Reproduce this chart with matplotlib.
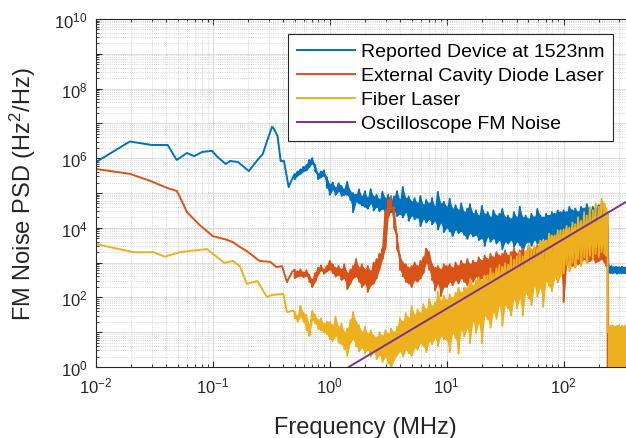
import numpy as np
import matplotlib
matplotlib.use("Agg")
import matplotlib.pyplot as plt
from matplotlib.ticker import LogLocator, FuncFormatter, NullFormatter

plt.rcParams["font.family"] = ["Liberation Sans", "DejaVu Sans"]
plt.rcParams["mathtext.fontset"] = "custom"
plt.rcParams["mathtext.rm"] = "Liberation Sans"
plt.rcParams["mathtext.it"] = "Liberation Sans:italic"
plt.rcParams["mathtext.default"] = "regular"

# ── Low-frequency part of each spectrum (MHz, log10 PSD) ──────────────────────
dev_f_low = [0.01, 0.0195, 0.030, 0.041, 0.049, 0.060, 0.069, 0.081, 0.098, 0.110,
             0.129, 0.140, 0.164, 0.203, 0.237, 0.267, 0.289, 0.320, 0.330, 0.357,
             0.380, 0.405, 0.445, 0.475]
dev_y_low = [5.89, 6.48, 6.38, 6.38, 5.95, 6.15, 6.06, 6.18, 6.21, 6.03,
             5.83, 5.92, 5.89, 5.63, 5.92, 6.12, 6.47, 6.90, 6.86, 6.64,
             5.92, 5.92, 5.17, 5.40]

ecdl_f_low = [0.01, 0.0195, 0.029, 0.041, 0.049, 0.052, 0.060, 0.077, 0.100, 0.130,
              0.148, 0.170, 0.195, 0.250, 0.310, 0.350, 0.390, 0.430, 0.475]
ecdl_y_low = [5.69, 5.55, 5.35, 5.14, 5.06, 4.90, 4.45, 4.08, 3.76, 3.66,
              3.59, 3.45, 3.33, 3.05, 3.02, 2.87, 2.90, 2.44, 2.73]

fiber_f_low = [0.01, 0.021, 0.031, 0.039, 0.052, 0.089, 0.100, 0.126, 0.148, 0.170,
               0.195, 0.240, 0.290, 0.320, 0.400, 0.430, 0.475]
fiber_y_low = [3.53, 3.30, 3.30, 3.17, 3.30, 3.39, 3.25, 2.99, 3.05, 2.90,
               2.39, 2.47, 2.01, 2.07, 2.10, 1.58, 1.61]

# ── Upper part: per-bin max / min of log10 PSD on a shared frequency grid ─────
f_hf = [0.501, 0.531, 0.562, 0.596, 0.631, 0.668, 0.708, 0.750, 0.794, 0.841, 0.891, 0.944,
        1.00, 1.06, 1.12, 1.19, 1.26, 1.33, 1.41, 1.50, 1.58, 1.68, 1.78, 1.88, 2.00, 2.11,
        2.24, 2.37, 2.51, 2.66, 2.82, 2.99, 3.16, 3.35, 3.55, 3.76, 3.98, 4.22, 4.47, 4.73,
        5.01, 5.31, 5.62, 5.96, 6.31, 6.68, 7.08, 7.50, 7.94, 8.41, 8.91, 9.44,
        10.0, 10.6, 11.2, 11.9, 12.6, 13.3, 14.1, 15.0, 15.8, 16.8, 17.8, 18.8, 20.0, 21.1,
        22.4, 23.7, 25.1, 26.6, 28.2, 29.9, 31.6, 33.5, 35.5, 37.6, 39.8, 42.2, 44.7, 47.3,
        50.1, 53.1, 56.2, 59.6, 63.1, 66.8, 70.8, 75.0, 79.4, 84.1, 89.1, 94.4,
        100, 106, 112, 119, 126, 133, 141, 150, 158, 168, 178, 188, 200, 211, 224, 232, 238,
        244, 250, 256, 262, 268, 274, 280, 286, 292, 298, 304, 310, 316, 322, 328, 334, 340,
        346, 352, 358, 364, 370, 376, 382, 388, 394, 400]

dev_hi = [5.55, 5.62, 5.68, 5.75, 5.80, 5.95, 6.00, 5.80, 5.55, 5.62, 5.65, 5.45,
          5.25, 5.30, 5.15, 5.28, 5.20, 5.10, 5.32, 5.05, 5.00, 4.95, 5.10, 4.90, 5.05, 4.85,
          5.11, 4.90, 4.95, 4.80, 5.03, 4.85, 4.95, 4.75, 4.90, 5.05, 4.80, 5.17, 4.85, 4.90,
          4.75, 4.85, 4.70, 4.91, 4.65, 4.80, 4.70, 4.85, 4.60, 5.03, 4.70, 4.75,
          4.60, 4.83, 4.55, 4.65, 4.50, 4.70, 4.45, 4.55, 4.68, 4.40, 4.50, 4.35, 4.63, 4.40,
          4.45, 4.30, 4.50, 4.35, 4.40, 4.54, 4.30, 4.35, 4.25, 4.45, 4.30, 4.60, 4.30, 4.35,
          4.25, 4.40, 4.30, 4.54, 4.35, 4.30, 4.40, 4.35, 4.45, 4.40, 4.50, 4.45,
          4.50, 4.45, 4.60, 4.50, 4.55, 4.45, 4.60, 4.55, 4.68, 4.50, 4.60, 4.55, 4.65, 4.50,
          4.54, 4.45, 4.35,
          2.88, 2.85, 2.90, 2.84, 2.87, 2.83, 2.88, 2.86, 2.82, 2.87, 2.85, 2.84, 2.88, 2.83,
          2.86, 2.85, 2.82, 2.87, 2.84, 2.86, 2.83, 2.85, 2.88, 2.84, 2.86, 2.83, 2.85]
dev_lo = [5.40, 5.50, 5.55, 5.62, 5.65, 5.75, 5.85, 5.62, 5.40, 5.45, 5.50, 5.15,
          4.95, 5.10, 4.95, 5.05, 4.92, 4.95, 4.95, 4.80, 4.45, 4.75, 4.70, 4.65, 4.60, 4.55,
          4.70, 4.50, 4.60, 4.48, 4.55, 4.40, 4.50, 4.45, 4.50, 4.34, 4.40, 4.30, 4.45, 4.20,
          4.35, 4.25, 4.30, 4.05, 4.25, 4.15, 4.25, 4.10, 4.20, 3.95, 4.15, 3.88,
          4.00, 3.90, 3.76, 3.95, 3.85, 3.90, 3.80, 3.68, 3.85, 3.75, 3.80, 3.65, 3.70, 3.48,
          3.75, 3.60, 3.70, 3.55, 3.65, 3.39, 3.60, 3.55, 3.65, 3.45, 3.60, 3.50, 3.30, 3.55,
          3.60, 3.48, 3.65, 3.55, 3.60, 3.70, 3.48, 3.65, 3.76, 3.70, 3.80, 3.75,
          3.85, 3.97, 3.90, 4.00, 3.95, 4.05, 4.00, 4.05, 4.10, 4.05, 4.10, 4.15, 4.10, 4.20,
          4.25, 4.20, 3.00,
          2.72, 2.70, 2.74, 2.69, 2.73, 2.71, 2.72, 2.68, 2.73, 2.70, 2.72, 2.71, 2.69, 2.73,
          2.70, 2.72, 2.71, 2.68, 2.72, 2.70, 2.73, 2.69, 2.71, 2.72, 2.70, 2.73, 2.71]

ecdl_hi = [2.80, 2.75, 2.80, 2.72, 2.78, 2.65, 2.50, 2.70, 2.85, 2.92, 2.80, 2.90,
           3.05, 2.95, 2.85, 2.90, 2.80, 2.95, 2.70, 2.80, 2.90, 3.10, 2.85, 2.95, 2.80, 2.90,
           2.75, 3.00, 3.10, 3.25, 3.40, 4.50, 4.80, 4.91, 4.60, 3.80, 3.20, 3.00, 2.95, 2.85,
           2.90, 3.00, 2.90, 3.05, 3.15, 3.40, 3.30, 2.95, 2.85, 2.90, 2.80, 2.95,
           2.90, 2.95, 2.85, 3.00, 2.90, 3.05, 2.95, 3.10, 2.95, 3.05, 3.00, 3.15, 3.05, 3.20,
           3.10, 3.25, 3.15, 3.30, 3.20, 3.25, 3.35, 3.20, 3.30, 3.40, 3.25, 3.35, 3.40, 3.30,
           3.45, 3.35, 3.40, 3.50, 3.35, 3.45, 3.40, 3.50, 3.40, 3.55, 3.45, 3.50,
           3.45, 3.55, 3.40, 3.50, 3.45, 3.55, 3.50, 3.45, 3.60, 3.50, 3.55, 3.50, 3.60, 3.55,
           3.50, 3.45, 3.00,
           -1.0]
ecdl_lo = [2.55, 2.60, 2.62, 2.58, 2.62, 2.45, 2.30, 2.45, 2.65, 2.78, 2.68, 2.75,
           2.80, 2.70, 2.60, 2.65, 2.50, 2.55, 2.24, 2.40, 2.55, 2.60, 2.45, 2.30, 2.40, 2.16,
           2.35, 2.40, 2.55, 2.80, 3.10, 3.40, 4.30, 4.50, 4.00, 3.40, 2.80, 2.60, 2.45, 2.40,
           2.30, 2.50, 2.45, 2.55, 2.70, 3.00, 2.80, 2.50, 2.20, 2.40, 2.04, 2.30,
           2.30, 2.45, 2.35, 2.50, 2.40, 2.55, 2.45, 2.35, 2.55, 2.45, 2.60, 2.50, 2.55, 2.65,
           2.50, 2.70, 2.60, 2.75, 2.65, 2.80, 2.70, 2.85, 2.75, 2.80, 2.70, 2.85, 2.75, 2.90,
           2.80, 2.90, 2.85, 2.95, 2.85, 2.70, 2.90, 2.95, 2.85, 3.00, 2.95, 2.90,
           1.87, 2.95, 3.00, 2.90, 3.05, 2.95, 3.00, 3.10, 3.00, 3.05, 3.10, 3.00, 3.05, 3.10,
           3.00, 2.90, 0.00,
           -1.0]

fiber_hi = [1.60, 1.45, 1.75, 1.55, 1.50, 1.20, 1.61, 1.50, 1.35, 1.40, 1.25, 1.30,
            1.30, 1.20, 1.45, 1.15, 1.25, 1.00, 1.10, 1.35, 1.58, 1.30, 1.20, 1.00, 1.15, 0.95,
            1.05, 0.90, 0.85, 1.00, 0.90, 1.05, 0.95, 1.10, 1.00, 1.15, 1.40, 1.30, 1.55, 1.40,
            1.75, 1.50, 1.65, 1.55, 1.80, 1.65, 1.95, 1.75, 1.85, 2.16, 1.90, 2.05,
            1.93, 2.08, 1.98, 2.13, 2.28, 2.13, 2.28, 2.28, 2.53, 2.33, 2.48, 2.58, 2.48, 2.63,
            2.63, 2.83, 2.68, 2.83, 2.93, 2.88, 2.98, 2.93, 3.18, 3.08, 3.18, 3.28, 3.18, 3.33,
            3.53, 3.38, 3.48, 3.43, 3.63, 3.63, 3.63, 3.83, 3.78, 3.78, 3.93, 3.93,
            3.95, 4.05, 4.00, 4.15, 4.10, 4.30, 4.20, 4.45, 4.35, 4.60, 4.50, 4.70, 4.60, 4.83,
            4.70, 4.55, 4.40,
            1.15, 1.18, 1.10, 1.20, 1.12, 1.16, 1.08, 1.18, 1.14, 1.20, 1.10, 1.15, 1.18, 1.12,
            1.16, 1.10, 1.20, 1.14, 1.17, 1.10, 1.15, 1.19, 1.12, 1.16, 1.13, 1.18, 1.15]
fiber_lo = [1.40, 1.30, 1.45, 1.30, 1.05, 0.89, 1.35, 1.25, 1.10, 1.05, 1.00, 0.95,
            0.80, 0.75, 0.90, 0.70, 0.65, 0.52, 0.32, 0.70, 0.80, 0.60, 0.45, 0.55, 0.40, 0.50,
            0.30, 0.45, 0.23, 0.35, 0.15, 0.30, 0.10, 0.00, 0.20, 0.35, 0.45, 0.30, 0.50, 0.40,
            0.32, 0.55, 0.50, 0.70, 0.60, 0.43, 0.75, 0.65, 0.85, 0.60, 0.90, 0.80,
            0.78, 0.43, 0.98, 0.83, 0.38, 1.08, 0.88, 1.13, 0.68, 1.33, 0.98, 1.28, 0.68, 1.48,
            1.38, 1.13, 1.58, 1.38, 1.78, 1.18, 1.78, 1.68, 1.48, 1.98, 1.68, 1.98, 1.48, 2.13,
            1.98, 1.78, 2.33, 2.03, 2.28, 1.73, 2.48, 2.33, 2.18, 2.58, 2.43, 2.63,
            2.70, 2.95, 2.75, 3.00, 2.85, 3.10, 2.90, 3.15, 3.00, 3.20, 3.10, 3.25, 3.15, 3.30,
            3.25, 3.20, 1.00,
            -0.5, -0.6, -0.4, -0.5, -0.6, -0.5, -0.4, -0.5, -0.6, -0.5, -0.4, -0.5, -0.6, -0.5,
            -0.4, -0.5, -0.6, -0.5, -0.4, -0.5, -0.6, -0.5, -0.4, -0.5, -0.6, -0.5, -0.4]

# Oscilloscope FM noise floor (straight f^2 line on log-log axes)
scope_f = [1.45, 400]
scope_psd = [1.0, 7.6e4]

labels = ["Reported Device at 1523nm", "External Cavity Diode Laser",
          "Fiber Laser", "Oscilloscope FM Noise"]
colors = ["#0072BD", "#D95319", "#EDB120", "#7E2F8E"]


def build_trace(f_low, y_low, hi, lo):
    # interleave per-bin max/min so the noisy part is drawn as one line
    n = len(hi)
    f = np.concatenate([f_low, np.repeat(f_hf[:n], 2)])
    y = np.concatenate([y_low, np.column_stack([hi, lo]).ravel()])
    return f, 10.0 ** y


fig = plt.figure(figsize=(6.26, 4.39), dpi=100)
ax = fig.add_axes([96 / 626, 71 / 439, 538 / 626, 348 / 439])

series = [(dev_f_low, dev_y_low, dev_hi, dev_lo),
          (ecdl_f_low, ecdl_y_low, ecdl_hi, ecdl_lo),
          (fiber_f_low, fiber_y_low, fiber_hi, fiber_lo)]
for (fl, yl, hi, lo), lab, c in zip(series, labels[:3], colors[:3]):
    f, p = build_trace(fl, yl, hi, lo)
    ax.plot(f, p, color=c, lw=1.4, label=lab)
    # dense noise floor between the per-bin extremes
    n = len(hi)
    ax.fill_between(f_hf[:n], 10.0 ** np.array(lo), 10.0 ** np.array(hi),
                    color=c, lw=0)
ax.plot(scope_f, scope_psd, color=colors[3], lw=1.4, label=labels[3])

ax.set_xscale("log")
ax.set_yscale("log")
ax.set_xlim(1e-2, 400)
ax.set_ylim(1, 1e10)

# ── Ticks & grid ──────────────────────────────────────────────────────────────
ax.xaxis.set_major_locator(LogLocator(base=10, numticks=20))
ax.yaxis.set_major_locator(LogLocator(base=10, numticks=20))
ax.xaxis.set_minor_locator(LogLocator(base=10, subs=np.arange(2, 10), numticks=50))
ax.yaxis.set_minor_locator(LogLocator(base=10, subs=np.arange(2, 10), numticks=50))
ax.xaxis.set_minor_formatter(NullFormatter())
ax.yaxis.set_minor_formatter(NullFormatter())
ax.xaxis.set_major_formatter(FuncFormatter(lambda v, _: r"$10^{%d}$" % round(np.log10(v))))
ax.yaxis.set_major_formatter(FuncFormatter(
    lambda v, _: r"$10^{%d}$" % round(np.log10(v)) if round(np.log10(v)) % 2 == 0 else ""))

ax.tick_params(which="both", direction="in", top=True, right=True,
               colors="#262626", labelsize=12, pad=6)
ax.tick_params(which="major", length=4, width=0.8)
ax.tick_params(which="minor", length=2, width=0.6)
ax.grid(True, which="major", color="#dcdcdc", lw=0.7)
ax.grid(True, which="minor", color="#c8c8c8", lw=0.6, ls=":")
ax.set_axisbelow(True)
for s in ax.spines.values():
    s.set_color("#262626")
    s.set_linewidth(0.8)

ax.set_xlabel("Frequency (MHz)", fontsize=17, color="#262626")
ax.set_ylabel("FM Noise PSD (Hz$^2$/Hz)", fontsize=17, color="#262626")
ax.xaxis.set_label_coords(0.5, -0.142)
ax.yaxis.set_label_coords(-0.108, 0.5)

leg = ax.legend(handles=ax.get_lines(), loc="upper right",
                bbox_to_anchor=(613 / 626, 1 - 35 / 439),
                bbox_transform=fig.transFigure, borderaxespad=0,
                fontsize=14.0, frameon=True, fancybox=False, framealpha=1,
                edgecolor="#262626", handlelength=3.0, handletextpad=0.3,
                labelspacing=0.33, borderpad=0.45)
leg.get_frame().set_linewidth(0.8)

fig.savefig("out.png", dpi=100)
